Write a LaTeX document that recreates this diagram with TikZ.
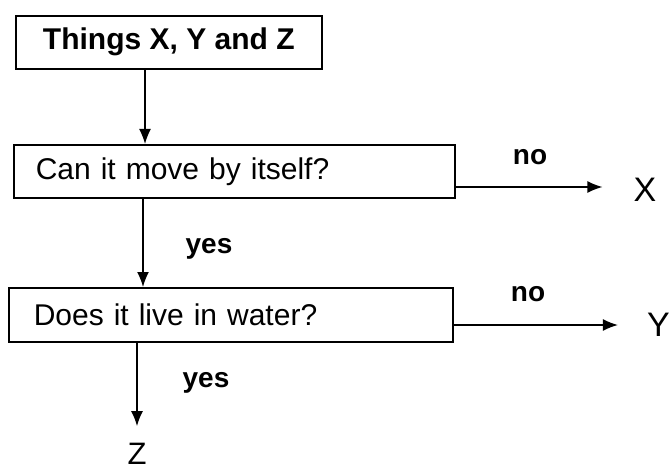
\documentclass[tikz,border=0pt]{standalone}
\usepackage{fontspec}
\setmainfont{Liberation Sans}
\usetikzlibrary{arrows.meta}
\begin{document}
\begin{tikzpicture}[x=1pt,y=-1pt,
  box/.style={draw, line width=1.6pt, rectangle, anchor=north west, inner ysep=0pt},
  arr/.style={line width=1.5pt, -{Latex[length=15pt,width=12pt]}},
  lbl/.style={font=\fontsize{28}{32}\selectfont\bfseries, inner sep=0pt},
  big/.style={font=\fontsize{34}{38}\selectfont, inner sep=0pt},
  boxtext/.style={font=\fontsize{30}{36}\selectfont}]
\useasboundingbox (0,0) rectangle (671,470);
\fill[white] (0,0) rectangle (671,470);
% boxes
\node[box, font=\fontsize{30}{36}\selectfont\bfseries, minimum width=306pt, minimum height=53pt, inner xsep=0pt] (b1) at (15,15) {Things X, Y and Z};
\node[box, boxtext, minimum width=441pt, minimum height=53pt, inner xsep=22pt, text width=397pt, align=left] (b2) at (13,144) {Can it move by itself?};
\node[box, boxtext, minimum width=444pt, minimum height=54pt, inner xsep=25pt, text width=394pt, align=left] (b3) at (8,287) {Does it live in water?};
% end nodes
\node[big] (X) at (645,190) {X};
\node[big, anchor=east] (Y) at (670,325) {Y};
\node[big, font=\fontsize{31}{36}\selectfont] (Z) at (137,454) {Z};
% labels
\node[lbl] (no1) at (530,157) {no};
\node[lbl] (no2) at (528,294) {no};
\node[lbl] (yes1) at (209,249) {yes};
\node[lbl] (yes2) at (206,383) {yes};
% helper coordinates
\coordinate (c1) at (145,0);
\coordinate (c2) at (143,0);
\coordinate (c3) at (137,0);
\coordinate (r1) at (0,187);
\coordinate (r2) at (0,325);
% connectors
\draw[arr] (c1 |- b1.south) -- (c1 |- b2.north);
\draw[arr] (c2 |- b2.south) -- (c2 |- b3.north);
\draw[arr, shorten >=17pt] (c3 |- b3.south) -- (Z.north);
\draw[arr, shorten >=31pt] (b2.east |- r1) -- (X.west |- r1);
\draw[arr, shorten >=29pt] (b3.east |- r2) -- (Y.west |- r2);
\end{tikzpicture}
\end{document}
